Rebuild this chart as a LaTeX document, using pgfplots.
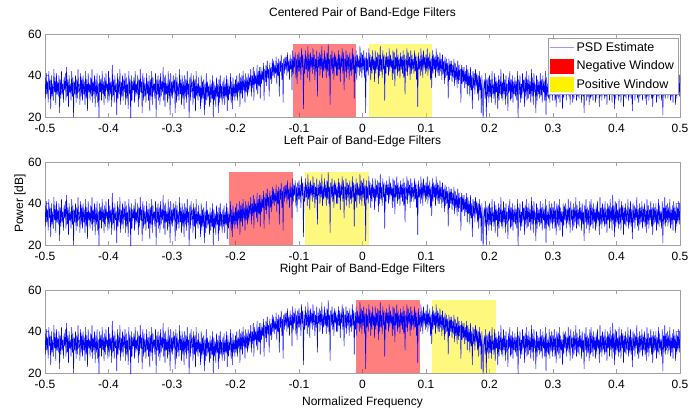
\documentclass[border=0pt]{standalone}
\usepackage{fontspec}
\setmainfont{Liberation Sans}
\usepackage{pgfplots}
\usepackage{pgfplotstable}
\pgfplotsset{compat=1.18}
\pgfplotstableread[row sep=\\]{
y\\
39\\ 29\\ 41\\ 31\\ 37\\ 27\\ 42\\ 33\\ 38\\ 24\\ 40\\ 30\\ 36\\ 28\\ 43\\ 32\\ 39\\ 26\\ 41\\ 31\\
37\\ 30\\ 40\\ 22\\ 38\\ 29\\ 42\\ 31\\ 36\\ 27\\ 39\\ 33\\ 41\\ 28\\ 44\\ 30\\ 38\\ 25\\ 40\\ 32\\
36\\ 28\\ 42\\ 30\\ 39\\ 20\\ 37\\ 31\\ 40\\ 27\\ 38\\ 29\\ 43\\ 32\\ 36\\ 26\\ 41\\ 30\\ 39\\ 28\\
40\\ 31\\ 37\\ 26\\ 42\\ 29\\ 38\\ 23\\ 41\\ 32\\ 36\\ 28\\ 39\\ 30\\ 43\\ 27\\ 37\\ 31\\ 40\\ 25\\
38\\ 30\\ 41\\ 27\\ 36\\ 19\\ 40\\ 32\\ 38\\ 28\\ 42\\ 31\\ 37\\ 26\\ 39\\ 29\\ 41\\ 33\\ 36\\ 27\\
42\\ 28\\ 39\\ 31\\ 37\\ 25\\ 45\\ 30\\ 38\\ 27\\ 40\\ 32\\ 36\\ 21\\ 41\\ 29\\ 38\\ 31\\ 43\\ 26\\
37\\ 30\\ 40\\ 28\\ 38\\ 32\\ 41\\ 26\\ 39\\ 29\\ 36\\ 24\\ 42\\ 31\\ 38\\ 18\\ 40\\ 28\\ 37\\ 33\\
39\\ 27\\ 42\\ 30\\ 36\\ 31\\ 40\\ 25\\ 38\\ 29\\ 43\\ 32\\ 37\\ 22\\ 41\\ 28\\ 39\\ 30\\ 36\\ 27\\
41\\ 31\\ 37\\ 28\\ 40\\ 23\\ 38\\ 30\\ 42\\ 26\\ 39\\ 32\\ 36\\ 29\\ 41\\ 20\\ 38\\ 31\\ 40\\ 28\\
38\\ 26\\ 41\\ 30\\ 37\\ 32\\ 44\\ 28\\ 39\\ 25\\ 40\\ 31\\ 36\\ 27\\ 42\\ 29\\ 38\\ 21\\ 41\\ 30\\
37\\ 29\\ 40\\ 32\\ 38\\ 22\\ 41\\ 27\\ 39\\ 30\\ 36\\ 28\\ 43\\ 31\\ 38\\ 26\\ 40\\ 29\\ 37\\ 24\\
40\\ 30\\ 38\\ 27\\ 42\\ 31\\ 36\\ 19\\ 39\\ 28\\ 41\\ 32\\ 37\\ 26\\ 40\\ 29\\ 38\\ 23\\ 42\\ 30\\
36\\ 28\\ 39\\ 30\\ 35\\ 24\\ 40\\ 27\\ 37\\ 29\\ 38\\ 21\\ 36\\ 26\\ 41\\ 28\\ 37\\ 30\\ 35\\ 25\\
38\\ 27\\ 36\\ 29\\ 40\\ 20\\ 37\\ 28\\ 35\\ 25\\ 39\\ 30\\ 36\\ 22\\ 38\\ 27\\ 40\\ 29\\ 35\\ 26\\
37\\ 29\\ 39\\ 26\\ 36\\ 30\\ 40\\ 23\\ 38\\ 28\\ 35\\ 31\\ 41\\ 27\\ 37\\ 24\\ 39\\ 30\\ 36\\ 28\\
38\\ 30\\ 40\\ 28\\ 37\\ 32\\ 41\\ 25\\ 39\\ 31\\ 40\\ 29\\ 42\\ 33\\ 38\\ 27\\ 41\\ 32\\ 39\\ 30\\
41\\ 32\\ 39\\ 35\\ 43\\ 30\\ 40\\ 34\\ 44\\ 28\\ 42\\ 36\\ 40\\ 33\\ 45\\ 31\\ 42\\ 35\\ 44\\ 29\\
44\\ 36\\ 42\\ 38\\ 46\\ 28\\ 43\\ 37\\ 45\\ 35\\ 47\\ 39\\ 43\\ 30\\ 46\\ 38\\ 44\\ 36\\ 48\\ 40\\
47\\ 39\\ 45\\ 41\\ 49\\ 36\\ 46\\ 40\\ 48\\ 30\\ 47\\ 42\\ 50\\ 38\\ 46\\ 27\\ 48\\ 41\\ 49\\ 43\\
49\\ 40\\ 51\\ 42\\ 47\\ 38\\ 50\\ 43\\ 48\\ 33\\ 52\\ 41\\ 49\\ 44\\ 51\\ 39\\ 48\\ 36\\ 50\\ 42\\
51\\ 42\\ 49\\ 38\\ 53\\ 44\\ 50\\ 24\\ 48\\ 41\\ 52\\ 43\\ 49\\ 39\\ 54\\ 42\\ 50\\ 37\\ 51\\ 44\\
49\\ 41\\ 53\\ 43\\ 50\\ 38\\ 48\\ 42\\ 52\\ 30\\ 49\\ 44\\ 51\\ 40\\ 50\\ 43\\ 54\\ 39\\ 48\\ 42\\
52\\ 43\\ 49\\ 39\\ 51\\ 42\\ 55\\ 40\\ 48\\ 26\\ 50\\ 43\\ 52\\ 41\\ 49\\ 38\\ 51\\ 44\\ 50\\ 40\\
48\\ 40\\ 52\\ 43\\ 50\\ 37\\ 49\\ 44\\ 53\\ 41\\ 51\\ 33\\ 48\\ 42\\ 52\\ 39\\ 50\\ 43\\ 49\\ 38\\
51\\ 42\\ 48\\ 40\\ 53\\ 43\\ 50\\ 29\\ 49\\ 41\\ 52\\ 38\\ 50\\ 44\\ 48\\ 40\\ 54\\ 42\\ 51\\ 39\\
50\\ 43\\ 52\\ 39\\ 49\\ 22\\ 51\\ 42\\ 48\\ 40\\ 53\\ 44\\ 50\\ 38\\ 49\\ 41\\ 52\\ 43\\ 48\\ 37\\
52\\ 41\\ 49\\ 43\\ 51\\ 36\\ 50\\ 40\\ 54\\ 42\\ 48\\ 39\\ 52\\ 43\\ 50\\ 28\\ 49\\ 41\\ 51\\ 44\\
49\\ 40\\ 53\\ 42\\ 50\\ 44\\ 48\\ 38\\ 52\\ 41\\ 51\\ 35\\ 49\\ 43\\ 53\\ 40\\ 50\\ 42\\ 48\\ 39\\
51\\ 43\\ 49\\ 41\\ 52\\ 39\\ 50\\ 31\\ 48\\ 42\\ 53\\ 40\\ 51\\ 44\\ 49\\ 38\\ 52\\ 41\\ 50\\ 43\\
48\\ 41\\ 52\\ 42\\ 50\\ 38\\ 49\\ 25\\ 51\\ 43\\ 48\\ 40\\ 53\\ 42\\ 50\\ 39\\ 52\\ 44\\ 49\\ 41\\
50\\ 42\\ 53\\ 40\\ 49\\ 43\\ 51\\ 38\\ 48\\ 34\\ 52\\ 41\\ 50\\ 43\\ 49\\ 39\\ 53\\ 42\\ 50\\ 40\\
49\\ 40\\ 51\\ 42\\ 48\\ 38\\ 50\\ 41\\ 47\\ 36\\ 49\\ 39\\ 48\\ 40\\ 46\\ 29\\ 48\\ 38\\ 47\\ 40\\
47\\ 37\\ 45\\ 39\\ 48\\ 35\\ 46\\ 38\\ 44\\ 34\\ 47\\ 36\\ 45\\ 38\\ 43\\ 27\\ 45\\ 36\\ 44\\ 37\\
44\\ 34\\ 42\\ 36\\ 45\\ 31\\ 43\\ 35\\ 41\\ 30\\ 44\\ 33\\ 40\\ 24\\ 42\\ 34\\ 41\\ 31\\ 43\\ 35\\
41\\ 31\\ 40\\ 28\\ 42\\ 33\\ 39\\ 22\\ 40\\ 30\\ 18\\ 35\\ 38\\ 29\\ 41\\ 20\\ 38\\ 30\\ 39\\ 27\\
40\\ 30\\ 38\\ 27\\ 42\\ 31\\ 36\\ 29\\ 41\\ 26\\ 39\\ 32\\ 37\\ 24\\ 40\\ 28\\ 38\\ 31\\ 43\\ 29\\
37\\ 28\\ 41\\ 31\\ 38\\ 26\\ 40\\ 30\\ 36\\ 23\\ 39\\ 32\\ 42\\ 28\\ 38\\ 29\\ 40\\ 27\\ 37\\ 31\\
39\\ 30\\ 37\\ 28\\ 42\\ 19\\ 38\\ 31\\ 40\\ 27\\ 36\\ 29\\ 41\\ 32\\ 38\\ 25\\ 39\\ 30\\ 42\\ 28\\
38\\ 29\\ 40\\ 31\\ 37\\ 27\\ 43\\ 30\\ 39\\ 26\\ 41\\ 32\\ 36\\ 22\\ 40\\ 28\\ 38\\ 31\\ 37\\ 29\\
41\\ 30\\ 38\\ 27\\ 40\\ 32\\ 37\\ 28\\ 42\\ 21\\ 39\\ 30\\ 36\\ 29\\ 41\\ 27\\ 38\\ 31\\ 40\\ 28\\
38\\ 31\\ 41\\ 28\\ 37\\ 25\\ 40\\ 30\\ 39\\ 29\\ 42\\ 27\\ 38\\ 31\\ 36\\ 24\\ 40\\ 29\\ 39\\ 32\\
40\\ 28\\ 37\\ 31\\ 42\\ 30\\ 38\\ 26\\ 41\\ 32\\ 37\\ 27\\ 40\\ 29\\ 38\\ 31\\ 43\\ 28\\ 39\\ 30\\
37\\ 29\\ 41\\ 32\\ 38\\ 27\\ 40\\ 30\\ 36\\ 22\\ 39\\ 31\\ 42\\ 28\\ 38\\ 30\\ 37\\ 26\\ 41\\ 29\\
42\\ 30\\ 38\\ 28\\ 40\\ 31\\ 37\\ 27\\ 39\\ 29\\ 41\\ 32\\ 36\\ 25\\ 43\\ 30\\ 38\\ 28\\ 40\\ 31\\
38\\ 29\\ 41\\ 30\\ 37\\ 26\\ 40\\ 32\\ 39\\ 28\\ 42\\ 31\\ 38\\ 27\\ 44\\ 30\\ 39\\ 24\\ 41\\ 29\\
40\\ 31\\ 37\\ 28\\ 42\\ 30\\ 38\\ 27\\ 41\\ 32\\ 39\\ 25\\ 38\\ 30\\ 40\\ 29\\ 37\\ 31\\ 42\\ 28\\
38\\ 30\\ 41\\ 29\\ 37\\ 23\\ 40\\ 31\\ 39\\ 28\\ 38\\ 32\\ 43\\ 29\\ 37\\ 27\\ 40\\ 30\\ 38\\ 31\\
41\\ 28\\ 38\\ 31\\ 40\\ 29\\ 37\\ 26\\ 42\\ 30\\ 39\\ 28\\ 37\\ 32\\ 41\\ 29\\ 38\\ 25\\ 40\\ 30\\
38\\ 31\\ 40\\ 27\\ 37\\ 30\\ 42\\ 29\\ 39\\ 31\\ 36\\ 28\\ 41\\ 21\\ 38\\ 30\\ 43\\ 29\\ 39\\ 31\\
40\\ 29\\ 38\\ 31\\ 42\\ 28\\ 37\\ 30\\ 39\\ 27\\ 41\\ 32\\ 38\\ 26\\ 40\\ 29\\ 38\\ 31\\ 41\\ 30\\
40\\
}\psd
\definecolor{axgray}{RGB}{160,160,160}
\pgfplotsset{
  bestyle/.style={
    width=635pt, height=83pt, scale only axis,
    xmin=-0.5, xmax=0.5, ymin=20, ymax=60,
    xtick={-0.5,-0.4,-0.3,-0.2,-0.1,0,0.1,0.2,0.3,0.4,0.5},
    xticklabels={-0.5,-0.4,-0.3,-0.2,-0.1,0,0.1,0.2,0.3,0.4,0.5},
    ytick={20,40,60}, yticklabels={20,40,60},
    tick align=inside, major tick length=4pt,
    axis line style={axgray}, tick style={axgray},
    xticklabel style={yshift=-4pt},
    /pgf/number format/assume math mode=true,
    title style={at={(0.5,1)}, anchor=base, yshift=12pt},
  },
  psdline/.style={color={rgb,255:red,0;green,0;blue,255}, line width=0.5pt, line join=round},
  negwin/.style={fill=red, fill opacity=0.5, draw=none},
  poswin/.style={fill=yellow, fill opacity=0.5, draw=none},
}
\begin{document}
\begin{tikzpicture}[font=\fontsize{12}{14}\selectfont]
\begin{axis}[bestyle, at={(45pt,-34pt)}, anchor=north west,
  title={Centered Pair of Band-Edge Filters},
  legend style={at={(0.997,0.952)}, anchor=north east, draw=axgray,
    font=\fontsize{12.5}{14}\selectfont, row sep=4pt, inner xsep=2pt, inner ysep=2pt},
  legend cell align=left]
\addplot[negwin, forget plot] coordinates {(-0.11,20) (-0.11,55) (-0.01,55) (-0.01,20)} -- cycle;
\addplot[poswin, forget plot] coordinates {(0.01,20) (0.01,55) (0.11,55) (0.11,20)} -- cycle;
\addplot[psdline, legend image code/.code={\draw[blue!40, line width=0.6pt] (0pt,0pt) -- (24pt,0pt);}]
  table[x expr=\coordindex*0.001-0.5, y=y] {\psd};
\addlegendentry{PSD Estimate}
\addlegendimage{legend image code/.code={\fill[red] (0pt,-7pt) rectangle (23pt,7pt);}}
\addlegendentry{Negative Window}
\addlegendimage{legend image code/.code={\fill[yellow] (0pt,-7pt) rectangle (23pt,7pt);}}
\addlegendentry{Positive Window}
\end{axis}
\begin{axis}[bestyle, at={(45pt,-162pt)}, anchor=north west,
  title={Left Pair of Band-Edge Filters},
  ylabel={Power [dB]},
  ylabel style={at={(axis description cs:-0.0346,0.5)}, anchor=base}]
\addplot[negwin] coordinates {(-0.21,20) (-0.21,55) (-0.11,55) (-0.11,20)} -- cycle;
\addplot[poswin] coordinates {(-0.09,20) (-0.09,55) (0.01,55) (0.01,20)} -- cycle;
\addplot[psdline] table[x expr=\coordindex*0.001-0.5, y=y] {\psd};
\end{axis}
\begin{axis}[bestyle, at={(45pt,-290pt)}, anchor=north west,
  title={Right Pair of Band-Edge Filters},
  xlabel={Normalized Frequency},
  xlabel style={at={(axis description cs:0.5,0)}, anchor=base, yshift=-32pt}]
\addplot[negwin] coordinates {(-0.01,20) (-0.01,55) (0.09,55) (0.09,20)} -- cycle;
\addplot[poswin] coordinates {(0.11,20) (0.11,55) (0.21,55) (0.21,20)} -- cycle;
\addplot[psdline] table[x expr=\coordindex*0.001-0.5, y=y] {\psd};
\end{axis}
\pgfresetboundingbox
\useasboundingbox (0,0) rectangle (691pt,-410pt);
\end{tikzpicture}
\end{document}
